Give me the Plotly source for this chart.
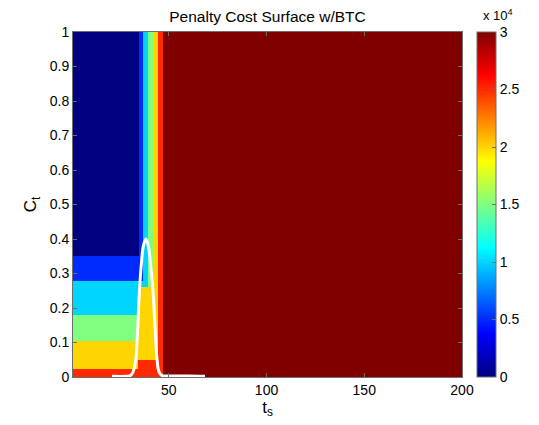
import numpy as np
import plotly.graph_objects as go

# ---- data ----
cost_levels = [0, 5000, 10000, 15000, 20000, 25000, 30000]

# vertical stripes (t_s where level increases by one)
stripe_t = [34.76, 36.96, 39.5, 42.1, 44.6, 46.8]
# horizontal bands on the left (C_t thresholds, level below each)
band_c = [0.022, 0.105, 0.18, 0.278, 0.352]
band_level = [5, 4, 3, 2, 1]
# region below the BTC peak
under_t = [34.0, 44.6]
under_c = [0.05, 0.26]
under_level = [5, 4]

t_range = [1, 200]
c_range = [0, 1]

# breakthrough curve (BTC)
btc_t = [21, 28, 30, 31.5, 33.0, 34.0, 35.0, 36.0, 37.0, 38.3, 39.5, 40.6, 41.9,
         43.0, 44.0, 45.0, 46.5, 50, 60, 68.5]
btc_c = [0.002, 0.002, 0.003, 0.012, 0.045, 0.13, 0.25, 0.33, 0.38, 0.40, 0.38,
         0.33, 0.25, 0.14, 0.05, 0.015, 0.004, 0.003, 0.003, 0.002]

x_ticks = [50, 100, 150, 200]
y_ticks = [0, 0.1, 0.2, 0.3, 0.4, 0.5, 0.6, 0.7, 0.8, 0.9, 1]
y_text = ['0', '0.1', '0.2', '0.3', '0.4', '0.5', '0.6', '0.7', '0.8', '0.9', '1']
cb_ticks = [0, 5000, 10000, 15000, 20000, 25000, 30000]
cb_text = ["0", "0.5", "1", "1.5", "2", "2.5", "3"]

# ---- build cell grid from boundaries ----
x_edges = sorted(set([t_range[0], t_range[1]] + stripe_t + under_t))
y_edges = sorted(set([c_range[0], c_range[1]] + band_c + under_c))


def level_at(t, c):
    s = sum(1 for b in stripe_t if t >= b)
    b = 0
    for thr, lv in zip(band_c, band_level):
        if c < thr:
            b = lv
            break
    u = 0
    if under_t[0] <= t <= under_t[1]:
        for thr, lv in zip(under_c, under_level):
            if c < thr:
                u = lv
                break
    return max(s, b, u)


z = []
for j in range(len(y_edges) - 1):
    cm = 0.5 * (y_edges[j] + y_edges[j + 1])
    row = []
    for i in range(len(x_edges) - 1):
        tm = 0.5 * (x_edges[i] + x_edges[i + 1])
        row.append(cost_levels[level_at(tm, cm)])
    z.append(row)

jet = [[0, 'rgb(0,0,128)'], [0.125, 'rgb(0,0,255)'], [0.375, 'rgb(0,255,255)'],
       [0.625, 'rgb(255,255,0)'], [0.875, 'rgb(255,0,0)'], [1, 'rgb(128,0,0)']]

FONT = "Liberation Sans, Arial, Helvetica, sans-serif"
AX = '#6e6e6e'

fig = go.Figure()
fig.add_trace(go.Heatmap(
    x=x_edges, y=y_edges, z=z, zmin=0, zmax=30000, colorscale=jet,
    hoverinfo='skip',
    colorbar=dict(
        thickness=19, thicknessmode='pixels', len=1, lenmode='fraction',
        x=1.0386, xanchor='left', y=0.5, yanchor='middle', xpad=0, ypad=0,
        outlinecolor=AX, outlinewidth=1,
        tickvals=cb_ticks, ticktext=cb_text, ticks='inside', ticklen=4,
        tickcolor=AX, tickfont=dict(size=14, color='black', family=FONT),
    ),
))
fig.add_trace(go.Scatter(
    x=btc_t, y=btc_c, mode='lines', line=dict(color='white', width=3, shape='spline'),
    hoverinfo='skip', showlegend=False,
))

fig.add_annotation(
    xref='paper', yref='paper', x=1.049, y=1.020, xanchor='left', yanchor='bottom',
    text='x 10<sup>4</sup>', showarrow=False, font=dict(size=13, color='black', family=FONT),
)

# page body adds an 8 px offset; margins compensate so the axes sit where the reference has them
fig.update_layout(
    width=539, height=425,
    margin=dict(l=65, r=85, t=24, b=56),
    paper_bgcolor='white', plot_bgcolor='white',
    font=dict(family=FONT, size=14, color='black'),
    title=dict(text='Penalty Cost Surface w/BTC', x=0.5, xref='paper', xanchor='center',
               y=1 - 9 / 425, yref='container', yanchor='middle', font=dict(size=15.5)),
    xaxis=dict(range=t_range, tickvals=x_ticks, ticks='inside', ticklen=4,
               tickcolor=AX, showline=True, linecolor=AX, mirror='ticks',
               showgrid=False, zeroline=False,
               title=dict(text='t<sub>s</sub>', standoff=0, font=dict(size=17))),
    yaxis=dict(range=c_range, tickvals=y_ticks, ticktext=y_text,
               ticks='inside', ticklen=4,
               tickcolor=AX, showline=True, linecolor=AX, mirror='ticks',
               showgrid=False, zeroline=False,
               title=dict(text='C<sub>t</sub>', standoff=8, font=dict(size=17))),
)

fig.write_html("out.html")
